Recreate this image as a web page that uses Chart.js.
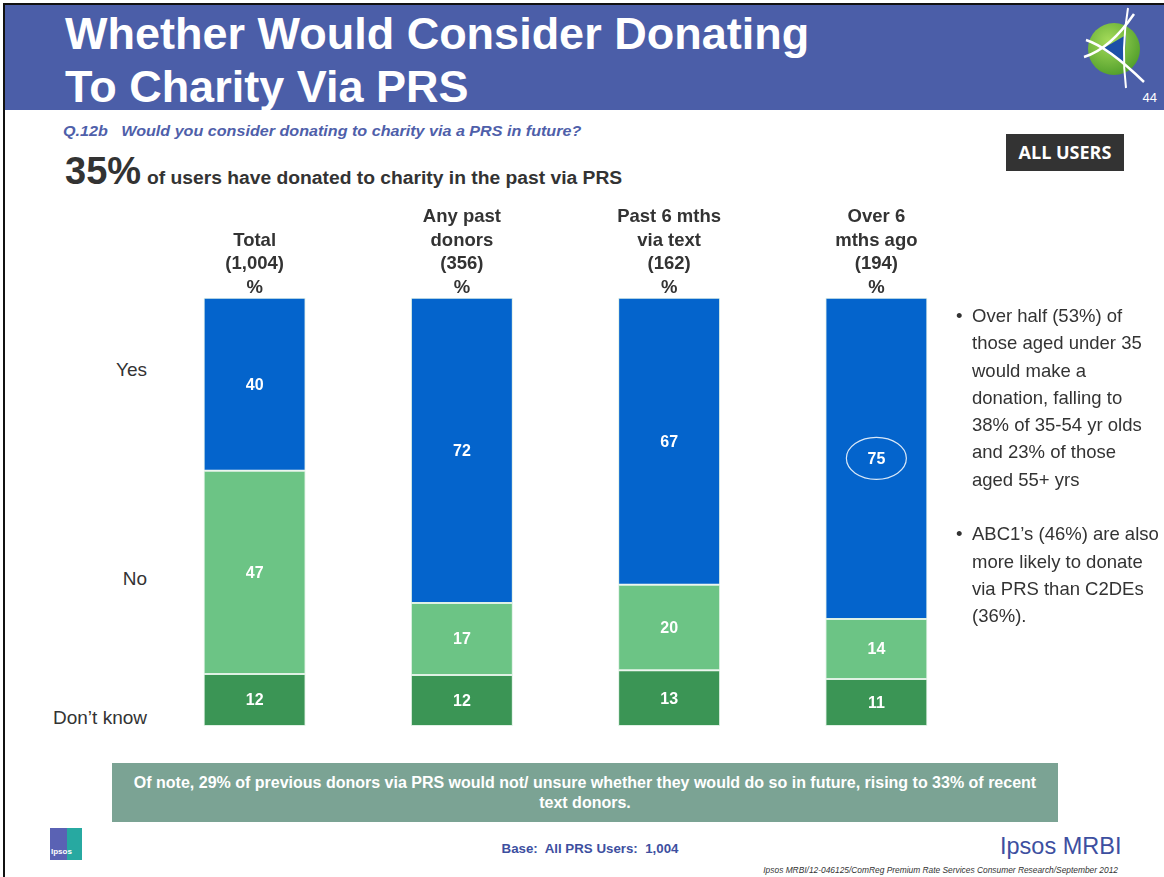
<!DOCTYPE html>
<html lang="en">
<head>
<meta charset="UTF-8">
<title>Whether Would Consider Donating To Charity Via PRS</title>
<script src="https://cdn.jsdelivr.net/npm/chart.js@4.4.3/dist/chart.umd.min.js"></script>
<style>
  body { margin: 0; background: #fff; font-family: "Liberation Sans", Arial, sans-serif; }
  #slide { position: relative; width: 1164px; height: 877px; overflow: hidden; background: #fff; }
  .abs { position: absolute; }
  /* slide frame lines */
  #frameTop { left: 3px; top: 3px; width: 1161px; height: 2px; background: #111; }
  #frameLeft { left: 3px; top: 3px; width: 2px; height: 874px; background: #111; }
  #banner { left: 5px; top: 5px; width: 1159px; height: 105px; background: #4b5ea8; }
  .title { color: #fff; font-weight: bold; font-size: 45px; left: 65px; white-space: nowrap; }
  #pageNo { right: 7px; top: 90px; color: #fff; font-size: 13px; }
  #question { left: 63px; top: 122px; color: #4f5faa; font-size: 15.5px; font-weight: bold; font-style: italic;
              white-space: pre; transform-origin: 0 50%; transform: scaleX(1.04); }
  #headline { left: 65px; top: 150px; color: #333; font-weight: bold; white-space: nowrap; }
  #headline .big { font-size: 38px; }
  #headline .small { font-size: 18px; display: inline-block; transform-origin: 0 50%; transform: scaleX(1.07); margin-left: 6px; }
  #allUsers { left: 1006px; top: 134px; width: 118px; height: 37px; background: #333; color: #fff; font-weight: bold;
              font-size: 18px; line-height: 37px; text-align: center; font-family: "Open Sans", sans-serif; }
  .rowLabel { color: #333; font-size: 19px; text-align: right; width: 120px; left: 27px; line-height: 22px; }
  #chartBox { left: 151px; top: 190px; width: 829px; height: 536px; }
  #notes { left: 956px; top: 302px; color: #333; font-size: 18.5px; line-height: 27.3px; white-space: nowrap; }
  .bullet { display: flex; margin-bottom: 27.3px; }
  .bullet span.dot { width: 16px; flex: none; }
  #noteBox { left: 112px; top: 763px; width: 946px; height: 59px; background: #7ba394; color: #fff; font-weight: bold;
             font-size: 16px; line-height: 20px; text-align: center; box-sizing: border-box; padding: 10px 0 0; white-space: nowrap; }
  #base { left: 440px; width: 300px; top: 841px; text-align: center; color: #3d4f9f; font-weight: bold; font-size: 13.3px; }
  #mrbi { left: 1000px; top: 833px; color: #3d4fa0; font-size: 23.5px; white-space: nowrap; }
  #ref { right: 46px; top: 865px; color: #333; font-size: 8.4px; font-style: italic; white-space: nowrap; }
  #ipsosLogo { left: 50px; top: 828px; width: 32px; height: 32px; }
  #ipsosLogo .l { position: absolute; left: 0; top: 0; width: 17px; height: 32px; background: #5a62b4; }
  #ipsosLogo .r { position: absolute; left: 17px; top: 0; width: 15px; height: 32px; background: #27a9a1; }
  #ipsosLogo .t { position: absolute; left: 1px; top: 19px; font-size: 8px; color: #fff; font-weight: bold; }
</style>
</head>
<body>
<div id="slide">
  <div id="banner" class="abs"></div>
  <div id="frameTop" class="abs"></div>
  <div id="frameLeft" class="abs"></div>
  <div class="abs title" style="top: 8px;">Whether Would Consider Donating</div>
  <div class="abs title" style="top: 61px;">To Charity Via PRS</div>
  <svg class="abs" style="left:1078px; top:6px;" width="86" height="84" viewBox="0 0 86 84">
    <defs>
      <radialGradient id="g" cx="0.4" cy="0.35" r="0.7">
        <stop offset="0" stop-color="#a6dc5a"/>
        <stop offset="1" stop-color="#4f9d2a"/>
      </radialGradient>
    </defs>
    <circle cx="36" cy="43" r="26" fill="url(#g)"/>
    <path d="M24 43 L48 29 L46 58 Z" fill="#1d4fa8"/>
    <path d="M8 34 Q30 41 66 76" stroke="#fff" stroke-width="2.5" fill="none"/>
    <path d="M6 51 Q32 43 56 8" stroke="#fff" stroke-width="2.5" fill="none"/>
    <path d="M50 2 Q43 43 48 82" stroke="#fff" stroke-width="2" fill="none"/>
  </svg>
  <div id="pageNo" class="abs">44</div>

  <div id="question" class="abs">Q.12b   Would you consider donating to charity via a PRS in future?</div>
  <div id="headline" class="abs"><span class="big">35%</span><span class="small">of users have donated to charity in the past via PRS</span></div>
  <div id="allUsers" class="abs">ALL USERS</div>

  <div class="abs rowLabel" style="top: 359px;">Yes</div>
  <div class="abs rowLabel" style="top: 568px;">No</div>
  <div class="abs rowLabel" style="top: 707px;">Don’t know</div>

  <div id="chartBox" class="abs"><canvas id="chart"></canvas></div>

  <div id="notes" class="abs">
    <div class="bullet"><span class="dot">•</span><span>Over half (53%) of<br>those aged under 35<br>would make a<br>donation, falling to<br>38% of 35-54 yr olds<br>and 23% of those<br>aged 55+ yrs</span></div>
    <div class="bullet"><span class="dot">•</span><span>ABC1’s (46%) are also<br>more likely to donate<br>via PRS than C2DEs<br>(36%).</span></div>
  </div>

  <div id="noteBox" class="abs">Of note, 29% of previous donors via PRS would not/ unsure whether they would do so in future, rising to 33% of recent<br>text donors.</div>

  <div id="ipsosLogo" class="abs"><div class="l"></div><div class="r"></div><div class="t">Ipsos</div></div>
  <div id="base" class="abs">Base:&nbsp; All PRS Users:&nbsp; 1,004</div>
  <div id="mrbi" class="abs">Ipsos MRBI</div>
  <div id="ref" class="abs">Ipsos MRBI/12-046125/ComReg Premium Rate Services Consumer Research/September 2012</div>
</div>

<script>
// Column headings (multi-line) drawn as the top x-axis labels
const categories = [
  ['Total', '(1,004)', '%'],
  ['Any past', 'donors', '(356)', '%'],
  ['Past 6 mths', 'via text', '(162)', '%'],
  ['Over 6', 'mths ago', '(194)', '%']
];
const yesValues = [40, 72, 67, 75];
const noValues = [47, 17, 20, 14];
const dontKnowValues = [12, 12, 13, 11];

// bottom-to-top stacking order
const series = [
  { name: 'Don’t know', values: dontKnowValues, color: '#3b9555' },
  { name: 'No', values: noValues, color: '#6cc485' },
  { name: 'Yes', values: yesValues, color: '#0464cc' }
];
// the "75" in the last column is circled on the slide
const circled = { series: 'Yes', index: 3 };

// each column is drawn as a full 100% stack (the rounded figures don't always add to 100)
const columnTotals = categories.map((_, i) => series.reduce((s, sr) => s + sr.values[i], 0));

const segmentLabels = {
  id: 'segmentLabels',
  afterDatasetsDraw(chart) {
    const ctx = chart.ctx;
    ctx.save();
    ctx.fillStyle = '#fff';
    ctx.font = 'bold 16px "Liberation Sans", Arial, sans-serif';
    ctx.textAlign = 'center';
    ctx.textBaseline = 'middle';
    chart.data.datasets.forEach((ds, di) => {
      chart.getDatasetMeta(di).data.forEach((bar, i) => {
        const cy = (bar.y + bar.base) / 2;
        ctx.fillText(String(ds.rawValues[i]), bar.x, cy + 1);
        if (ds.label === circled.series && i === circled.index) {
          ctx.strokeStyle = 'rgba(255,255,255,0.85)';
          ctx.lineWidth = 1.2;
          ctx.beginPath();
          ctx.ellipse(bar.x, cy, 30, 21, 0, 0, Math.PI * 2);
          ctx.stroke();
        }
      });
    });
    ctx.restore();
  }
};

new Chart(document.getElementById('chart'), {
  type: 'bar',
  data: {
    labels: categories,
    datasets: series.map(sr => ({
      label: sr.name,
      rawValues: sr.values,
      data: sr.values.map((v, i) => v / columnTotals[i] * 100),
      backgroundColor: sr.color,
      borderColor: 'rgba(220,240,225,0.9)',
      borderWidth: 1,
      borderSkipped: false,
      categoryPercentage: 1,
      barPercentage: 0.492
    }))
  },
  options: {
    responsive: true,
    maintainAspectRatio: false,
    animation: false,
    layout: { padding: { top: 17, left: 0, right: 0, bottom: 0 } },
    plugins: {
      legend: { display: false },
      tooltip: { enabled: false }
    },
    scales: {
      x: {
        position: 'top',
        stacked: true,
        border: { display: false },
        grid: { display: false, drawTicks: false },
        ticks: {
          color: '#333',
          padding: -2,
          font: { family: '"Liberation Sans", Arial, sans-serif', size: 18.5, weight: 'bold', lineHeight: 1.28 }
        }
      },
      y: {
        display: false,
        stacked: true,
        min: 0,
        max: 100
      }
    }
  },
  plugins: [segmentLabels]
});
</script>
</body>
</html>
